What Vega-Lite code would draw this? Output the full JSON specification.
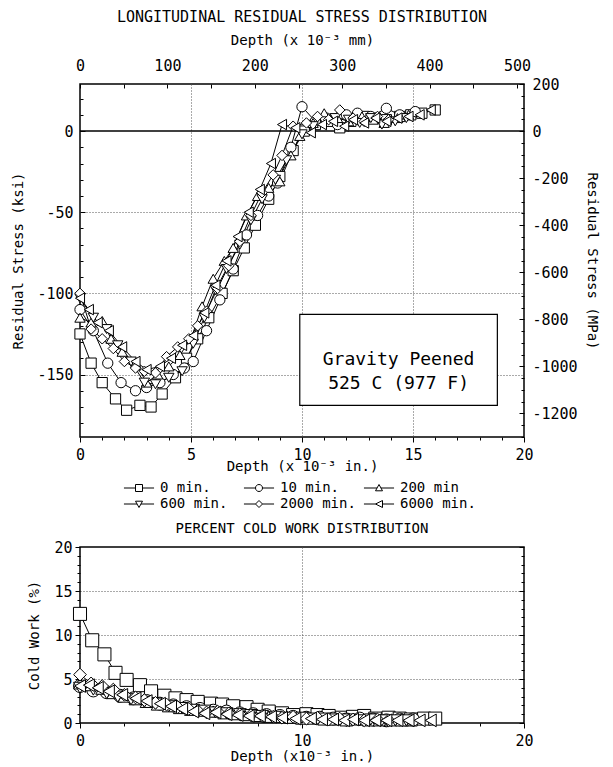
{
  "$schema": "https://vega.github.io/schema/vega-lite/v6.json",
  "padding": {"left": 11, "top": 9, "right": 5, "bottom": 5},
  "background": "white",
  "config": {
    "font": "DejaVu Sans Mono",
    "view": {"stroke": "black", "strokeWidth": 1.5},
    "axis": {
      "labelFont": "DejaVu Sans Mono", "titleFont": "DejaVu Sans Mono",
      "labelFontSize": 15, "titleFontSize": 14, "titleFontWeight": "normal",
      "labelColor": "black", "titleColor": "black", "domain": false,
      "tickColor": "black", "labelFlush": false, "labelBound": false,
      "labelOverlap": false, "grid": false
    },
    "title": {"font": "DejaVu Sans Mono", "fontSize": 15, "fontWeight": "normal", "color": "black"}
  },
  "datasets": {
    "stress": [
      {"series": "0 min.", "depth": 0.0, "ksi": -125}, {"series": "0 min.", "depth": 0.5, "ksi": -143}, {"series": "0 min.", "depth": 1.0, "ksi": -155}, {"series": "0 min.", "depth": 1.6, "ksi": -165}, {"series": "0 min.", "depth": 2.1, "ksi": -172}, {"series": "0 min.", "depth": 2.7, "ksi": -169}, {"series": "0 min.", "depth": 3.2, "ksi": -170}, {"series": "0 min.", "depth": 3.7, "ksi": -162}, {"series": "0 min.", "depth": 4.3, "ksi": -152}, {"series": "0 min.", "depth": 4.8, "ksi": -140}, {"series": "0 min.", "depth": 5.3, "ksi": -128}, {"series": "0 min.", "depth": 5.8, "ksi": -115}, {"series": "0 min.", "depth": 6.4, "ksi": -100}, {"series": "0 min.", "depth": 6.9, "ksi": -86}, {"series": "0 min.", "depth": 7.4, "ksi": -72}, {"series": "0 min.", "depth": 7.9, "ksi": -58}, {"series": "0 min.", "depth": 8.5, "ksi": -42}, {"series": "0 min.", "depth": 9.0, "ksi": -28}, {"series": "0 min.", "depth": 9.6, "ksi": -12}, {"series": "0 min.", "depth": 10.1, "ksi": 0}, {"series": "0 min.", "depth": 10.6, "ksi": 4}, {"series": "0 min.", "depth": 11.2, "ksi": 6}, {"series": "0 min.", "depth": 11.7, "ksi": 2}, {"series": "0 min.", "depth": 12.2, "ksi": 6}, {"series": "0 min.", "depth": 12.8, "ksi": 9}, {"series": "0 min.", "depth": 13.3, "ksi": 8}, {"series": "0 min.", "depth": 13.8, "ksi": 7}, {"series": "0 min.", "depth": 14.4, "ksi": 9}, {"series": "0 min.", "depth": 14.9, "ksi": 10}, {"series": "0 min.", "depth": 15.4, "ksi": 11}, {"series": "0 min.", "depth": 16.0, "ksi": 13},
      {"series": "10 min.", "depth": 0.0, "ksi": -110}, {"series": "10 min.", "depth": 0.6, "ksi": -123}, {"series": "10 min.", "depth": 1.25, "ksi": -143}, {"series": "10 min.", "depth": 1.85, "ksi": -155}, {"series": "10 min.", "depth": 2.5, "ksi": -160}, {"series": "10 min.", "depth": 3.0, "ksi": -158}, {"series": "10 min.", "depth": 3.6, "ksi": -155}, {"series": "10 min.", "depth": 4.2, "ksi": -150}, {"series": "10 min.", "depth": 4.7, "ksi": -146}, {"series": "10 min.", "depth": 5.1, "ksi": -142}, {"series": "10 min.", "depth": 5.7, "ksi": -123}, {"series": "10 min.", "depth": 6.3, "ksi": -104}, {"series": "10 min.", "depth": 6.9, "ksi": -85}, {"series": "10 min.", "depth": 7.5, "ksi": -64}, {"series": "10 min.", "depth": 8.0, "ksi": -52}, {"series": "10 min.", "depth": 8.5, "ksi": -40}, {"series": "10 min.", "depth": 8.9, "ksi": -32}, {"series": "10 min.", "depth": 9.5, "ksi": -10}, {"series": "10 min.", "depth": 10.0, "ksi": 15}, {"series": "10 min.", "depth": 10.6, "ksi": 6}, {"series": "10 min.", "depth": 11.1, "ksi": 8}, {"series": "10 min.", "depth": 11.6, "ksi": 4}, {"series": "10 min.", "depth": 12.0, "ksi": 10}, {"series": "10 min.", "depth": 12.5, "ksi": 11}, {"series": "10 min.", "depth": 13.1, "ksi": 9}, {"series": "10 min.", "depth": 13.8, "ksi": 14}, {"series": "10 min.", "depth": 14.4, "ksi": 10}, {"series": "10 min.", "depth": 15.1, "ksi": 12},
      {"series": "200 min", "depth": 0.0, "ksi": -115}, {"series": "200 min", "depth": 0.5, "ksi": -118}, {"series": "200 min", "depth": 1.0, "ksi": -117}, {"series": "200 min", "depth": 1.4, "ksi": -128}, {"series": "200 min", "depth": 1.9, "ksi": -136}, {"series": "200 min", "depth": 2.5, "ksi": -143}, {"series": "200 min", "depth": 3.0, "ksi": -155}, {"series": "200 min", "depth": 3.5, "ksi": -150}, {"series": "200 min", "depth": 4.0, "ksi": -145}, {"series": "200 min", "depth": 4.5, "ksi": -138}, {"series": "200 min", "depth": 5.0, "ksi": -128}, {"series": "200 min", "depth": 5.5, "ksi": -108}, {"series": "200 min", "depth": 6.0, "ksi": -91}, {"series": "200 min", "depth": 6.5, "ksi": -80}, {"series": "200 min", "depth": 6.9, "ksi": -72}, {"series": "200 min", "depth": 7.5, "ksi": -52}, {"series": "200 min", "depth": 8.0, "ksi": -40}, {"series": "200 min", "depth": 8.5, "ksi": -35}, {"series": "200 min", "depth": 9.0, "ksi": -31}, {"series": "200 min", "depth": 9.5, "ksi": -15}, {"series": "200 min", "depth": 9.9, "ksi": -3}, {"series": "200 min", "depth": 10.5, "ksi": 5}, {"series": "200 min", "depth": 11.0, "ksi": 11}, {"series": "200 min", "depth": 11.6, "ksi": 8}, {"series": "200 min", "depth": 12.1, "ksi": 6}, {"series": "200 min", "depth": 12.7, "ksi": 9}, {"series": "200 min", "depth": 13.2, "ksi": 7}, {"series": "200 min", "depth": 13.7, "ksi": 5}, {"series": "200 min", "depth": 14.3, "ksi": 8}, {"series": "200 min", "depth": 14.8, "ksi": 10},
      {"series": "600 min.", "depth": 0.0, "ksi": -103}, {"series": "600 min.", "depth": 0.6, "ksi": -115}, {"series": "600 min.", "depth": 1.2, "ksi": -122}, {"series": "600 min.", "depth": 1.7, "ksi": -132}, {"series": "600 min.", "depth": 2.3, "ksi": -142}, {"series": "600 min.", "depth": 2.9, "ksi": -155}, {"series": "600 min.", "depth": 3.4, "ksi": -156}, {"series": "600 min.", "depth": 4.0, "ksi": -152}, {"series": "600 min.", "depth": 4.6, "ksi": -148}, {"series": "600 min.", "depth": 5.1, "ksi": -131}, {"series": "600 min.", "depth": 5.6, "ksi": -115}, {"series": "600 min.", "depth": 6.1, "ksi": -98}, {"series": "600 min.", "depth": 6.6, "ksi": -85}, {"series": "600 min.", "depth": 7.2, "ksi": -70}, {"series": "600 min.", "depth": 7.7, "ksi": -55}, {"series": "600 min.", "depth": 8.2, "ksi": -42}, {"series": "600 min.", "depth": 8.8, "ksi": -30}, {"series": "600 min.", "depth": 9.3, "ksi": -18}, {"series": "600 min.", "depth": 10.0, "ksi": -2}, {"series": "600 min.", "depth": 10.5, "ksi": 3}, {"series": "600 min.", "depth": 11.0, "ksi": 6}, {"series": "600 min.", "depth": 11.5, "ksi": 8}, {"series": "600 min.", "depth": 12.1, "ksi": 7}, {"series": "600 min.", "depth": 12.6, "ksi": 5}, {"series": "600 min.", "depth": 13.1, "ksi": 8}, {"series": "600 min.", "depth": 13.6, "ksi": 4}, {"series": "600 min.", "depth": 14.2, "ksi": 6}, {"series": "600 min.", "depth": 14.7, "ksi": 8},
      {"series": "2000 min.", "depth": 0.0, "ksi": -100}, {"series": "2000 min.", "depth": 0.5, "ksi": -122}, {"series": "2000 min.", "depth": 1.0, "ksi": -128}, {"series": "2000 min.", "depth": 1.5, "ksi": -134}, {"series": "2000 min.", "depth": 2.0, "ksi": -142}, {"series": "2000 min.", "depth": 2.5, "ksi": -146}, {"series": "2000 min.", "depth": 2.9, "ksi": -148}, {"series": "2000 min.", "depth": 3.4, "ksi": -149}, {"series": "2000 min.", "depth": 3.9, "ksi": -139}, {"series": "2000 min.", "depth": 4.4, "ksi": -133}, {"series": "2000 min.", "depth": 4.9, "ksi": -128}, {"series": "2000 min.", "depth": 5.3, "ksi": -120}, {"series": "2000 min.", "depth": 5.7, "ksi": -111}, {"series": "2000 min.", "depth": 6.2, "ksi": -97}, {"series": "2000 min.", "depth": 6.7, "ksi": -83}, {"series": "2000 min.", "depth": 7.2, "ksi": -68}, {"series": "2000 min.", "depth": 7.7, "ksi": -52}, {"series": "2000 min.", "depth": 8.2, "ksi": -38}, {"series": "2000 min.", "depth": 8.7, "ksi": -27}, {"series": "2000 min.", "depth": 9.1, "ksi": -15}, {"series": "2000 min.", "depth": 9.6, "ksi": 3}, {"series": "2000 min.", "depth": 10.2, "ksi": 5}, {"series": "2000 min.", "depth": 10.7, "ksi": 9}, {"series": "2000 min.", "depth": 11.2, "ksi": 7}, {"series": "2000 min.", "depth": 11.7, "ksi": 13}, {"series": "2000 min.", "depth": 12.3, "ksi": 8}, {"series": "2000 min.", "depth": 12.8, "ksi": 6}, {"series": "2000 min.", "depth": 13.4, "ksi": 9}, {"series": "2000 min.", "depth": 13.9, "ksi": 7},
      {"series": "6000 min.", "depth": 0.0, "ksi": -103}, {"series": "6000 min.", "depth": 0.4, "ksi": -110}, {"series": "6000 min.", "depth": 0.8, "ksi": -118}, {"series": "6000 min.", "depth": 1.3, "ksi": -123}, {"series": "6000 min.", "depth": 1.9, "ksi": -133}, {"series": "6000 min.", "depth": 2.5, "ksi": -142}, {"series": "6000 min.", "depth": 3.0, "ksi": -147}, {"series": "6000 min.", "depth": 3.6, "ksi": -145}, {"series": "6000 min.", "depth": 4.1, "ksi": -140}, {"series": "6000 min.", "depth": 4.6, "ksi": -132}, {"series": "6000 min.", "depth": 5.1, "ksi": -126}, {"series": "6000 min.", "depth": 5.6, "ksi": -112}, {"series": "6000 min.", "depth": 6.1, "ksi": -95}, {"series": "6000 min.", "depth": 6.6, "ksi": -80}, {"series": "6000 min.", "depth": 7.1, "ksi": -65}, {"series": "6000 min.", "depth": 7.6, "ksi": -50}, {"series": "6000 min.", "depth": 8.1, "ksi": -36}, {"series": "6000 min.", "depth": 8.6, "ksi": -20}, {"series": "6000 min.", "depth": 9.1, "ksi": 4}, {"series": "6000 min.", "depth": 9.7, "ksi": 2}, {"series": "6000 min.", "depth": 10.4, "ksi": -1}, {"series": "6000 min.", "depth": 10.9, "ksi": 4}, {"series": "6000 min.", "depth": 11.4, "ksi": 6}, {"series": "6000 min.", "depth": 11.9, "ksi": 3}, {"series": "6000 min.", "depth": 12.3, "ksi": 7}, {"series": "6000 min.", "depth": 12.8, "ksi": 5}, {"series": "6000 min.", "depth": 13.3, "ksi": 8}, {"series": "6000 min.", "depth": 13.8, "ksi": 6}, {"series": "6000 min.", "depth": 14.3, "ksi": 8}, {"series": "6000 min.", "depth": 14.8, "ksi": 9}, {"series": "6000 min.", "depth": 15.3, "ksi": 10}, {"series": "6000 min.", "depth": 15.8, "ksi": 13}
    ],
    "coldwork": [
      {"series": "0 min.", "depth": 0.0, "pct": 12.4}, {"series": "0 min.", "depth": 0.55, "pct": 9.4}, {"series": "0 min.", "depth": 1.1, "pct": 7.8}, {"series": "0 min.", "depth": 1.6, "pct": 5.7}, {"series": "0 min.", "depth": 2.1, "pct": 4.9}, {"series": "0 min.", "depth": 2.7, "pct": 4.3}, {"series": "0 min.", "depth": 3.2, "pct": 3.6}, {"series": "0 min.", "depth": 3.8, "pct": 3.1}, {"series": "0 min.", "depth": 4.3, "pct": 2.8}, {"series": "0 min.", "depth": 4.8, "pct": 2.6}, {"series": "0 min.", "depth": 5.3, "pct": 2.4}, {"series": "0 min.", "depth": 5.9, "pct": 2.2}, {"series": "0 min.", "depth": 6.4, "pct": 2.1}, {"series": "0 min.", "depth": 6.9, "pct": 1.9}, {"series": "0 min.", "depth": 7.5, "pct": 1.8}, {"series": "0 min.", "depth": 8.0, "pct": 1.5}, {"series": "0 min.", "depth": 8.5, "pct": 1.3}, {"series": "0 min.", "depth": 9.1, "pct": 1.1}, {"series": "0 min.", "depth": 9.6, "pct": 0.9}, {"series": "0 min.", "depth": 10.2, "pct": 1.0}, {"series": "0 min.", "depth": 10.7, "pct": 0.9}, {"series": "0 min.", "depth": 11.2, "pct": 0.8}, {"series": "0 min.", "depth": 11.8, "pct": 0.6}, {"series": "0 min.", "depth": 12.3, "pct": 0.7}, {"series": "0 min.", "depth": 12.8, "pct": 0.8}, {"series": "0 min.", "depth": 13.3, "pct": 0.5}, {"series": "0 min.", "depth": 13.9, "pct": 0.6}, {"series": "0 min.", "depth": 14.4, "pct": 0.5}, {"series": "0 min.", "depth": 14.9, "pct": 0.4}, {"series": "0 min.", "depth": 15.5, "pct": 0.5}, {"series": "0 min.", "depth": 16.0, "pct": 0.5},
      {"series": "10 min.", "depth": 0.0, "pct": 4.2}, {"series": "10 min.", "depth": 0.6, "pct": 3.7}, {"series": "10 min.", "depth": 1.2, "pct": 3.5}, {"series": "10 min.", "depth": 1.8, "pct": 3.1}, {"series": "10 min.", "depth": 2.4, "pct": 2.8}, {"series": "10 min.", "depth": 3.0, "pct": 2.5}, {"series": "10 min.", "depth": 3.6, "pct": 2.2}, {"series": "10 min.", "depth": 4.2, "pct": 2.0}, {"series": "10 min.", "depth": 4.8, "pct": 1.8}, {"series": "10 min.", "depth": 5.4, "pct": 1.6}, {"series": "10 min.", "depth": 6.0, "pct": 1.4}, {"series": "10 min.", "depth": 6.6, "pct": 1.3}, {"series": "10 min.", "depth": 7.2, "pct": 1.1}, {"series": "10 min.", "depth": 7.8, "pct": 1.0}, {"series": "10 min.", "depth": 8.4, "pct": 0.9}, {"series": "10 min.", "depth": 9.0, "pct": 0.8}, {"series": "10 min.", "depth": 9.6, "pct": 0.7}, {"series": "10 min.", "depth": 10.2, "pct": 0.6}, {"series": "10 min.", "depth": 10.8, "pct": 0.6}, {"series": "10 min.", "depth": 11.4, "pct": 0.5}, {"series": "10 min.", "depth": 12.0, "pct": 0.4}, {"series": "10 min.", "depth": 12.6, "pct": 0.5}, {"series": "10 min.", "depth": 13.2, "pct": 0.4}, {"series": "10 min.", "depth": 13.8, "pct": 0.3}, {"series": "10 min.", "depth": 14.4, "pct": 0.4}, {"series": "10 min.", "depth": 15.0, "pct": 0.4},
      {"series": "200 min", "depth": 0.0, "pct": 4.5}, {"series": "200 min", "depth": 0.5, "pct": 4.3}, {"series": "200 min", "depth": 1.0, "pct": 3.9}, {"series": "200 min", "depth": 1.5, "pct": 3.4}, {"series": "200 min", "depth": 2.0, "pct": 3.0}, {"series": "200 min", "depth": 2.5, "pct": 2.7}, {"series": "200 min", "depth": 3.0, "pct": 2.4}, {"series": "200 min", "depth": 3.5, "pct": 2.1}, {"series": "200 min", "depth": 4.0, "pct": 1.9}, {"series": "200 min", "depth": 4.5, "pct": 1.7}, {"series": "200 min", "depth": 5.0, "pct": 1.5}, {"series": "200 min", "depth": 5.5, "pct": 1.4}, {"series": "200 min", "depth": 6.0, "pct": 1.3}, {"series": "200 min", "depth": 6.5, "pct": 1.1}, {"series": "200 min", "depth": 7.0, "pct": 1.0}, {"series": "200 min", "depth": 7.5, "pct": 0.9}, {"series": "200 min", "depth": 8.0, "pct": 0.8}, {"series": "200 min", "depth": 8.5, "pct": 0.7}, {"series": "200 min", "depth": 9.0, "pct": 0.7}, {"series": "200 min", "depth": 9.5, "pct": 0.6}, {"series": "200 min", "depth": 10.0, "pct": 0.5}, {"series": "200 min", "depth": 10.5, "pct": 0.5}, {"series": "200 min", "depth": 11.0, "pct": 0.4}, {"series": "200 min", "depth": 11.5, "pct": 0.4}, {"series": "200 min", "depth": 12.0, "pct": 0.3}, {"series": "200 min", "depth": 12.5, "pct": 0.4}, {"series": "200 min", "depth": 13.0, "pct": 0.3}, {"series": "200 min", "depth": 13.5, "pct": 0.3}, {"series": "200 min", "depth": 14.0, "pct": 0.3}, {"series": "200 min", "depth": 14.5, "pct": 0.3},
      {"series": "600 min.", "depth": 0.0, "pct": 4.0}, {"series": "600 min.", "depth": 0.6, "pct": 3.8}, {"series": "600 min.", "depth": 1.2, "pct": 3.4}, {"series": "600 min.", "depth": 1.7, "pct": 3.0}, {"series": "600 min.", "depth": 2.3, "pct": 2.7}, {"series": "600 min.", "depth": 2.9, "pct": 2.4}, {"series": "600 min.", "depth": 3.4, "pct": 2.2}, {"series": "600 min.", "depth": 4.0, "pct": 1.9}, {"series": "600 min.", "depth": 4.6, "pct": 1.7}, {"series": "600 min.", "depth": 5.1, "pct": 1.5}, {"series": "600 min.", "depth": 5.6, "pct": 1.4}, {"series": "600 min.", "depth": 6.1, "pct": 1.2}, {"series": "600 min.", "depth": 6.6, "pct": 1.1}, {"series": "600 min.", "depth": 7.2, "pct": 1.0}, {"series": "600 min.", "depth": 7.7, "pct": 0.9}, {"series": "600 min.", "depth": 8.2, "pct": 0.8}, {"series": "600 min.", "depth": 8.8, "pct": 0.7}, {"series": "600 min.", "depth": 9.3, "pct": 0.6}, {"series": "600 min.", "depth": 10.0, "pct": 0.6}, {"series": "600 min.", "depth": 10.5, "pct": 0.5}, {"series": "600 min.", "depth": 11.0, "pct": 0.5}, {"series": "600 min.", "depth": 11.5, "pct": 0.4}, {"series": "600 min.", "depth": 12.1, "pct": 0.4}, {"series": "600 min.", "depth": 12.6, "pct": 0.3}, {"series": "600 min.", "depth": 13.1, "pct": 0.4}, {"series": "600 min.", "depth": 13.6, "pct": 0.3}, {"series": "600 min.", "depth": 14.2, "pct": 0.3}, {"series": "600 min.", "depth": 14.7, "pct": 0.3},
      {"series": "2000 min.", "depth": 0.0, "pct": 5.5}, {"series": "2000 min.", "depth": 0.5, "pct": 4.5}, {"series": "2000 min.", "depth": 1.0, "pct": 4.2}, {"series": "2000 min.", "depth": 1.5, "pct": 3.8}, {"series": "2000 min.", "depth": 2.0, "pct": 3.2}, {"series": "2000 min.", "depth": 2.5, "pct": 2.9}, {"series": "2000 min.", "depth": 2.9, "pct": 2.6}, {"series": "2000 min.", "depth": 3.4, "pct": 2.3}, {"series": "2000 min.", "depth": 3.9, "pct": 2.1}, {"series": "2000 min.", "depth": 4.4, "pct": 1.8}, {"series": "2000 min.", "depth": 4.9, "pct": 1.6}, {"series": "2000 min.", "depth": 5.3, "pct": 1.4}, {"series": "2000 min.", "depth": 5.7, "pct": 1.2}, {"series": "2000 min.", "depth": 6.2, "pct": 1.3}, {"series": "2000 min.", "depth": 6.7, "pct": 1.1}, {"series": "2000 min.", "depth": 7.2, "pct": 1.0}, {"series": "2000 min.", "depth": 7.7, "pct": 0.9}, {"series": "2000 min.", "depth": 8.2, "pct": 0.8}, {"series": "2000 min.", "depth": 8.7, "pct": 0.7}, {"series": "2000 min.", "depth": 9.1, "pct": 0.6}, {"series": "2000 min.", "depth": 9.6, "pct": 0.7}, {"series": "2000 min.", "depth": 10.2, "pct": 0.5}, {"series": "2000 min.", "depth": 10.7, "pct": 0.6}, {"series": "2000 min.", "depth": 11.2, "pct": 0.4}, {"series": "2000 min.", "depth": 11.7, "pct": 0.5}, {"series": "2000 min.", "depth": 12.3, "pct": 0.4}, {"series": "2000 min.", "depth": 12.8, "pct": 0.3}, {"series": "2000 min.", "depth": 13.4, "pct": 0.4}, {"series": "2000 min.", "depth": 13.9, "pct": 0.3},
      {"series": "6000 min.", "depth": 0.0, "pct": 4.2}, {"series": "6000 min.", "depth": 0.4, "pct": 4.3}, {"series": "6000 min.", "depth": 0.8, "pct": 4.0}, {"series": "6000 min.", "depth": 1.3, "pct": 3.6}, {"series": "6000 min.", "depth": 1.9, "pct": 3.2}, {"series": "6000 min.", "depth": 2.5, "pct": 2.8}, {"series": "6000 min.", "depth": 3.0, "pct": 2.5}, {"series": "6000 min.", "depth": 3.6, "pct": 2.2}, {"series": "6000 min.", "depth": 4.1, "pct": 1.9}, {"series": "6000 min.", "depth": 4.6, "pct": 1.6}, {"series": "6000 min.", "depth": 5.1, "pct": 1.3}, {"series": "6000 min.", "depth": 5.6, "pct": 1.1}, {"series": "6000 min.", "depth": 6.1, "pct": 1.2}, {"series": "6000 min.", "depth": 6.6, "pct": 1.0}, {"series": "6000 min.", "depth": 7.1, "pct": 0.9}, {"series": "6000 min.", "depth": 7.6, "pct": 0.8}, {"series": "6000 min.", "depth": 8.1, "pct": 0.8}, {"series": "6000 min.", "depth": 8.6, "pct": 0.7}, {"series": "6000 min.", "depth": 9.1, "pct": 0.6}, {"series": "6000 min.", "depth": 9.7, "pct": 0.5}, {"series": "6000 min.", "depth": 10.4, "pct": 0.5}, {"series": "6000 min.", "depth": 10.9, "pct": 0.4}, {"series": "6000 min.", "depth": 11.4, "pct": 0.4}, {"series": "6000 min.", "depth": 11.9, "pct": 0.3}, {"series": "6000 min.", "depth": 12.3, "pct": 0.4}, {"series": "6000 min.", "depth": 12.8, "pct": 0.3}, {"series": "6000 min.", "depth": 13.3, "pct": 0.3}, {"series": "6000 min.", "depth": 13.8, "pct": 0.3}, {"series": "6000 min.", "depth": 14.3, "pct": 0.3}, {"series": "6000 min.", "depth": 14.8, "pct": 0.3}, {"series": "6000 min.", "depth": 15.3, "pct": 0.3}, {"series": "6000 min.", "depth": 15.8, "pct": 0.3}
    ]
  },
  "spacing": 9,
  "resolve": {"scale": {"shape": "independent", "size": "independent"}, "legend": {"shape": "independent"}},
  "vconcat": [
    {
      "width": 444,
      "height": 353,
      "title": {"text": "LONGITUDINAL RESIDUAL STRESS DISTRIBUTION", "fontSize": 15, "offset": 8},
      "resolve": {"scale": {"x": "independent", "y": "independent", "shape": "independent", "size": "independent"}, "axis": {"x": "independent", "y": "independent"}},
      "layer": [
        {
          "data": {"name": "stress"},
          "mark": {"type": "line", "color": "black", "strokeWidth": 1},
          "encoding": {
            "x": {"field": "depth", "type": "quantitative", "scale": {"domain": [0, 20], "nice": false, "zero": false},
              "axis": {"orient": "bottom", "values": [0,1,2,3,4,5,6,7,8,9,10,11,12,13,14,15,16,17,18,19,20],
                "labelExpr": "datum.value % 5 === 0 ? '' + datum.value : ''",
                "tickSize": {"condition": {"test": "datum.value % 5 === 0", "value": 5}, "value": 3},
                "labelPadding": 5,
                "grid": true, "gridColor": "#555", "gridDash": [1, 2],
                "gridOpacity": {"condition": {"test": "datum.value % 5 === 0 && datum.value > 0 && datum.value < 20", "value": 1}, "value": 0},
                "title": "Depth (x 10⁻³ in.)", "titlePadding": -3}},
            "y": {"field": "ksi", "type": "quantitative", "scale": {"domain": [-188.5, 29], "nice": false, "zero": false},
              "axis": {"orient": "left", "values": [-180,-170,-160,-150,-140,-130,-120,-110,-100,-90,-80,-70,-60,-50,-40,-30,-20,-10,0,10,20],
                "labelExpr": "datum.value % 50 === 0 ? '' + datum.value : ''",
                "tickSize": {"condition": {"test": "datum.value % 50 === 0", "value": -5}, "value": -3},
                "labelPadding": 12,
                "grid": true, "gridColor": "#555", "gridDash": [1, 2],
                "gridOpacity": {"condition": {"test": "datum.value % 50 === 0 && datum.value < 0", "value": 1}, "value": 0},
                "title": "Residual Stress (ksi)", "titlePadding": 11}},
            "detail": {"field": "series"}
          }
        },
        {
          "data": {"values": [{}]},
          "mark": {"type": "rule", "color": "black", "strokeWidth": 1.5},
          "encoding": {"y": {"datum": 0, "type": "quantitative", "scale": {"domain": [-188.5, 29], "nice": false, "zero": false}, "axis": null}}
        },
        {
          "data": {"name": "stress"},
          "mark": {"type": "point", "filled": true, "fill": "white", "stroke": "black", "strokeWidth": 1, "opacity": 1},
          "encoding": {
            "x": {"field": "depth", "type": "quantitative", "scale": {"domain": [0, 20], "nice": false, "zero": false}, "axis": null},
            "y": {"field": "ksi", "type": "quantitative", "scale": {"domain": [-188.5, 29], "nice": false, "zero": false}, "axis": null},
            "shape": {"field": "series", "type": "nominal", "legend": null,
              "scale": {"domain": ["0 min.", "10 min.", "200 min", "600 min.", "2000 min.", "6000 min."], "range": ["square", "circle", "triangle-up", "triangle-down", "diamond", "triangle-left"]}},
            "size": {"field": "series", "type": "nominal", "legend": null,
              "scale": {"domain": ["0 min.", "10 min.", "200 min", "600 min.", "2000 min.", "6000 min."], "range": [105, 110, 150, 150, 190, 150]}}
          }
        },
        {
          "data": {"values": [{}]},
          "mark": {"type": "rect", "fill": "white", "stroke": "black", "strokeWidth": 1.2},
          "encoding": {
            "x": {"datum": 9.9, "type": "quantitative", "scale": {"domain": [0, 20], "nice": false, "zero": false}, "axis": null},
            "x2": {"datum": 18.8},
            "y": {"datum": -113, "type": "quantitative", "scale": {"domain": [-188.5, 29], "nice": false, "zero": false}, "axis": null},
            "y2": {"datum": -169}
          }
        },
        {
          "data": {"values": [{}]},
          "mark": {"type": "text", "font": "DejaVu Sans Mono", "fontSize": 18, "lineHeight": 24, "baseline": "middle", "align": "center", "color": "black"},
          "encoding": {
            "x": {"datum": 14.35, "type": "quantitative", "scale": {"domain": [0, 20], "nice": false, "zero": false}, "axis": null},
            "y": {"datum": -141, "type": "quantitative", "scale": {"domain": [-188.5, 29], "nice": false, "zero": false}, "axis": null},
            "text": {"value": ["Gravity Peened", "525 C (977 F)"]}
          }
        },
        {
          "data": {"values": [{}]},
          "mark": {"type": "rule", "opacity": 0},
          "encoding": {
            "x": {"datum": 0, "type": "quantitative", "scale": {"domain": [0, 508], "nice": false, "zero": false},
              "axis": {"orient": "top", "values": [0,50,100,150,200,250,300,350,400,450,500],
                "labelExpr": "datum.value % 100 === 0 ? '' + datum.value : ''",
                "tickSize": -4, "labelPadding": 15,
                "title": "Depth (x 10⁻³ mm)", "titlePadding": 11}}
          }
        },
        {
          "data": {"values": [{}]},
          "mark": {"type": "rule", "opacity": 0},
          "encoding": {
            "y": {"datum": 0, "type": "quantitative", "scale": {"domain": [-1300, 200], "nice": false, "zero": false},
              "axis": {"orient": "right", "values": [-1300,-1250,-1200,-1150,-1100,-1050,-1000,-950,-900,-850,-800,-750,-700,-650,-600,-550,-500,-450,-400,-350,-300,-250,-200,-150,-100,-50,0,50,100,150,200],
                "labelExpr": "datum.value % 200 === 0 ? '' + datum.value : ''",
                "tickSize": {"condition": {"test": "datum.value % 200 === 0", "value": -5}, "value": -3},
                "labelPadding": 13,
                "title": "Residual Stress (MPa)", "titleAngle": 90, "titlePadding": 7}}
          }
        },
        {
          "data": {"name": "stress"},
          "transform": [{"filter": "false"}],
          "mark": {"type": "point", "color": "black", "filled": false},
          "encoding": {
            "x": {"field": "depth", "type": "quantitative", "scale": {"domain": [0, 20], "nice": false, "zero": false}, "axis": null},
            "y": {"field": "ksi", "type": "quantitative", "scale": {"domain": [-188.5, 29], "nice": false, "zero": false}, "axis": null},
            "shape": {"field": "series", "type": "nominal",
              "scale": {"domain": ["0 min.", "10 min.", "200 min", "600 min.", "2000 min.", "6000 min."],
                "range": [
                  "M-4.3,0H-1M1,0H4.3M-1,-1H1V1H-1Z",
                  "M-4.3,0H-1M1,0H4.3M1,0A1,1,0,1,1,-1,0A1,1,0,1,1,1,0Z",
                  "M-4.3,0H-0.55M0.55,0H4.3M0,-1L1,0.8H-1Z",
                  "M-4.3,0H-0.55M0.55,0H4.3M0,1L1,-0.8H-1Z",
                  "M-4.3,0H-1M1,0H4.3M0,-1L1,0L0,1L-1,0Z",
                  "M-4.3,0H-1M1,0H4.3M-1,0L1,-1V1Z"
                ]},
              "legend": {"orient": "none", "legendX": 52, "legendY": 397, "direction": "horizontal", "columns": 3, "title": null,
                "labelFont": "DejaVu Sans Mono", "labelFontSize": 14, "labelColor": "black",
                "symbolSize": 49, "symbolStrokeWidth": 1, "symbolStrokeColor": "black", "symbolFillColor": "white", "symbolOpacity": 1,
                "labelOffset": 14, "columnPadding": 5, "rowPadding": 2, "gridAlign": "all", "padding": 0}}
          }
        }
      ]
    },
    {
      "width": 444,
      "height": 176,
      "title": {"text": "PERCENT COLD WORK DISTRIBUTION", "fontSize": 14, "offset": 4},
      "resolve": {"axis": {"y": "independent"}},
      "layer": [
        {
          "data": {"name": "coldwork"},
          "mark": {"type": "line", "color": "black", "strokeWidth": 1},
          "encoding": {
            "x": {"field": "depth", "type": "quantitative", "scale": {"domain": [0, 20], "nice": false, "zero": false},
              "axis": {"orient": "bottom", "values": [0,1,2,3,4,5,6,7,8,9,10,11,12,13,14,15,16,17,18,19,20],
                "labelExpr": "datum.value % 5 === 0 ? '' + datum.value : ''",
                "tickSize": {"condition": {"test": "datum.value % 5 === 0", "value": 5}, "value": 3},
                "labelPadding": 5,
                "grid": true, "gridColor": "#555", "gridDash": [1, 2],
                "gridOpacity": {"condition": {"test": "datum.value % 5 === 0 && datum.value > 0 && datum.value < 20", "value": 1}, "value": 0},
                "title": "Depth (x10⁻³ in.)", "titlePadding": 1}},
            "y": {"field": "pct", "type": "quantitative", "scale": {"domain": [0, 20], "nice": false, "zero": false},
              "axis": {"orient": "left", "values": [0,1,2,3,4,5,6,7,8,9,10,11,12,13,14,15,16,17,18,19,20],
                "labelExpr": "datum.value % 5 === 0 ? '' + datum.value : ''",
                "tickSize": {"condition": {"test": "datum.value % 5 === 0", "value": 5}, "value": 3},
                "labelPadding": 3,
                "grid": true, "gridColor": "#555", "gridDash": [1, 2],
                "gridOpacity": {"condition": {"test": "datum.value % 5 === 0 && datum.value > 0 && datum.value < 20", "value": 1}, "value": 0},
                "title": "Cold Work (%)", "titlePadding": 12}},
            "detail": {"field": "series"}
          }
        },
        {
          "data": {"name": "coldwork"},
          "mark": {"type": "point", "filled": true, "fill": "white", "stroke": "black", "strokeWidth": 1, "opacity": 1},
          "encoding": {
            "x": {"field": "depth", "type": "quantitative"},
            "y": {"field": "pct", "type": "quantitative", "axis": null},
            "shape": {"field": "series", "type": "nominal", "legend": null,
              "scale": {"domain": ["0 min.", "10 min.", "200 min", "600 min.", "2000 min.", "6000 min."], "range": ["square", "circle", "triangle-up", "triangle-down", "diamond", "triangle-left"]}},
            "size": {"field": "series", "type": "nominal", "legend": null,
              "scale": {"domain": ["0 min.", "10 min.", "200 min", "600 min.", "2000 min.", "6000 min."], "range": [170, 160, 240, 240, 290, 240]}}
          }
        },
        {
          "data": {"values": [{}]},
          "mark": {"type": "rule", "opacity": 0},
          "encoding": {
            "y": {"datum": 0, "type": "quantitative",
              "axis": {"orient": "right", "values": [0,1,2,3,4,5,6,7,8,9,10,11,12,13,14,15,16,17,18,19,20],
                "labels": false, "title": null,
                "tickSize": {"condition": {"test": "datum.value % 5 === 0", "value": -5}, "value": -3}}}
          }
        }
      ]
    }
  ]
}
